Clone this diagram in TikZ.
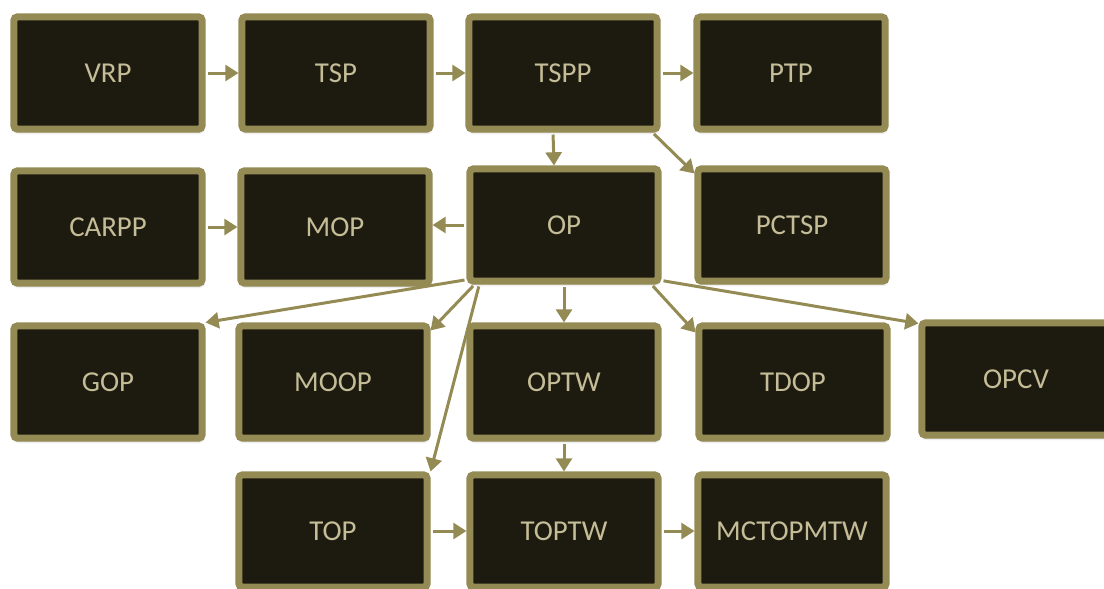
\documentclass[tikz,border=0pt]{standalone}
\usepackage{fontspec}
\setmainfont{Carlito}
\usetikzlibrary{arrows.meta,shadows.blur}
\definecolor{olivebd}{HTML}{948A54}
\definecolor{boxfill}{HTML}{1D1B10}
\definecolor{tantext}{HTML}{C4BD97}

\begin{document}
\begin{tikzpicture}[x=0.025cm,y=-0.025cm,
        probbox/.style={draw=olivebd,fill=boxfill,line width=0.175cm,rounded corners=0.08cm,
            minimum width=4.7cm,minimum height=2.8cm,text=tantext,
            font=\fontsize{20.5}{24}\selectfont,
            blur shadow={shadow xshift=0.02cm,shadow yshift=-0.07cm,shadow blur steps=6,shadow opacity=35}},
        link/.style={draw=olivebd,line width=0.075cm,-{Triangle[length=0.33cm,width=0.4cm]},shorten <=0.05cm}]
        \useasboundingbox (0,0) rectangle (1104,588);

        \node[probbox] (vrp) at (108,73) {VRP};
        \node[probbox] (tsp) at (336,73) {TSP};
        \node[probbox] (tspp) at (563,73) {TSPP};
        \node[probbox] (ptp) at (791,73) {PTP};

        \node[probbox] (carpp) at (108,227) {CARPP};
        \node[probbox] (mop) at (335,227) {MOP};
        \node[probbox] (op) at (564,225) {OP};
        \node[probbox] (pctsp) at (792,225) {PCTSP};

        \node[probbox] (gop) at (108,382) {GOP};
        \node[probbox] (moop) at (333,382) {MOOP};
        \node[probbox] (optw) at (564,382) {OPTW};
        \node[probbox] (tdop) at (793,382) {TDOP};
        \node[probbox] (opcv) at (1016,379) {OPCV};

        \node[probbox] (top) at (333,531) {TOP};
        \node[probbox] (toptw) at (564,531) {TOPTW};
        \node[probbox] (mctopmtw) at (792,531) {MCTOPMTW};

        \draw[link] (vrp.east) -- (tsp.west);
        \draw[link] (tsp.east) -- (tspp.west);
        \draw[link] (tspp.east) -- (ptp.west);
        \draw[link] ([xshift=-0.25cm]tspp.south) -- ([xshift=-0.25cm]op.north);
        \draw[link] ([xshift=-0.2cm]tspp.south east) -- ([yshift=-0.2cm]pctsp.north west);

        \draw[link] (carpp.east) -- (mop.west);
        \draw[link] (op.west) -- (op.west -| mop.east);

        \draw[link] ([yshift=0.12cm]op.south west) -- (gop.north east);
        \draw[link] ([xshift=0.2cm]op.south west) -- ([yshift=-0.2cm]moop.north east);
        \draw[link] ([xshift=0.32cm]op.south west) -- (top.north east);
        \draw[link] (op.south) -- (optw.north);
        \draw[link] ([xshift=-0.25cm]op.south east) -- ([yshift=-0.25cm]tdop.north west);
        \draw[link] ([yshift=0.1cm]op.south east) -- ([yshift=-0.1cm]opcv.north west);

        \draw[link] (optw.south) -- (toptw.north);
        \draw[link] (top.east) -- (toptw.west);
        \draw[link] (toptw.east) -- (mctopmtw.west);
    \end{tikzpicture}
\end{document}
